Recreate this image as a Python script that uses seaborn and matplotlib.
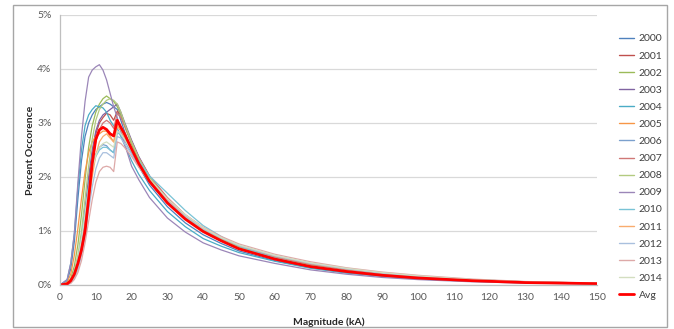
import numpy as np
import pandas as pd
import seaborn as sns
import matplotlib
matplotlib.use("Agg")
import matplotlib.pyplot as plt
from matplotlib.patches import Rectangle

# ================================
# Data (percent occurrence by magnitude, kA)
# ================================
MAG = [0, 2, 3, 4, 5, 6, 7, 8, 9, 10, 11, 12, 13, 14, 15, 16, 17, 18, 20, 22,
       25, 30, 35, 40, 45, 50, 60, 70, 80, 90, 100, 115, 130, 150]

Y2000 = [0, 0.08, 0.3, 0.8, 1.6, 2.3, 2.75, 3.0, 3.15, 3.25, 3.3, 3.35, 3.38, 3.35, 3.3, 3.25, 3.05, 2.85, 2.5, 2.2,
         1.85, 1.45, 1.15, 0.93, 0.77, 0.63, 0.45, 0.32, 0.23, 0.17, 0.12, 0.075, 0.045, 0.025]
Y2001 = [0, 0.02, 0.06, 0.18, 0.4, 0.75, 1.25, 1.85, 2.4, 2.8, 3.0, 3.1, 3.18, 3.15, 3.05, 3.22, 3.15, 2.98, 2.66, 2.36,
         2.0, 1.6, 1.28, 1.04, 0.86, 0.71, 0.51, 0.37, 0.27, 0.2, 0.15, 0.09, 0.055, 0.03]
Y2002 = [0, 0.03, 0.12, 0.35, 0.75, 1.3, 1.95, 2.55, 2.95, 3.2, 3.35, 3.45, 3.5, 3.45, 3.4, 3.3, 3.15, 2.95, 2.6, 2.3,
         1.95, 1.55, 1.24, 1.0, 0.83, 0.68, 0.48, 0.34, 0.25, 0.18, 0.13, 0.08, 0.045, 0.025]
Y2003 = [0, 0.02, 0.07, 0.2, 0.45, 0.85, 1.4, 2.0, 2.5, 2.85, 3.05, 3.15, 3.2, 3.25, 3.3, 3.35, 3.2, 3.02, 2.68, 2.38,
         2.02, 1.6, 1.28, 1.04, 0.86, 0.71, 0.5, 0.36, 0.26, 0.19, 0.14, 0.085, 0.05, 0.028]
Y2004 = [0, 0.1, 0.4, 0.95, 1.8, 2.5, 2.95, 3.15, 3.25, 3.32, 3.3, 3.28, 3.2, 3.05, 2.95, 2.9, 2.75, 2.6, 2.3, 2.05,
         1.75, 1.36, 1.08, 0.86, 0.72, 0.6, 0.44, 0.31, 0.22, 0.16, 0.11, 0.07, 0.04, 0.022]
Y2005 = [0, 0.05, 0.2, 0.55, 1.05, 1.6, 2.1, 2.45, 2.65, 2.75, 2.8, 2.85, 2.85, 2.75, 2.65, 2.95, 2.85, 2.7, 2.45, 2.2,
         1.9, 1.52, 1.23, 1.0, 0.83, 0.69, 0.5, 0.36, 0.27, 0.2, 0.14, 0.09, 0.05, 0.028]
Y2006 = [0, 0.02, 0.07, 0.2, 0.45, 0.85, 1.35, 1.85, 2.2, 2.42, 2.55, 2.6, 2.58, 2.5, 2.45, 2.85, 2.8, 2.68, 2.45, 2.2,
         1.9, 1.52, 1.23, 1.0, 0.82, 0.68, 0.49, 0.35, 0.26, 0.19, 0.14, 0.085, 0.05, 0.027]
Y2007 = [0, 0.01, 0.05, 0.15, 0.35, 0.65, 1.1, 1.7, 2.25, 2.65, 2.88, 3.0, 3.05, 3.0, 2.9, 3.18, 3.1, 2.95, 2.65, 2.36,
         2.02, 1.62, 1.3, 1.06, 0.88, 0.73, 0.53, 0.39, 0.29, 0.21, 0.16, 0.1, 0.06, 0.032]
Y2008 = [0, 0.02, 0.08, 0.25, 0.55, 1.0, 1.6, 2.2, 2.7, 3.05, 3.25, 3.35, 3.42, 3.45, 3.42, 3.35, 3.2, 3.0, 2.65, 2.35,
         2.0, 1.58, 1.27, 1.03, 0.85, 0.7, 0.5, 0.36, 0.26, 0.19, 0.14, 0.085, 0.05, 0.028]
Y2009 = [0, 0.1, 0.4, 0.95, 1.9, 2.75, 3.4, 3.85, 3.98, 4.04, 4.08, 3.98, 3.8, 3.55, 3.3, 3.1, 2.85, 2.62, 2.2, 1.95,
         1.62, 1.24, 0.98, 0.78, 0.65, 0.54, 0.4, 0.28, 0.2, 0.14, 0.1, 0.06, 0.035, 0.02]
Y2010 = [0, 0.02, 0.08, 0.22, 0.48, 0.88, 1.35, 1.8, 2.15, 2.38, 2.5, 2.55, 2.55, 2.5, 2.45, 2.82, 2.78, 2.7, 2.5, 2.3,
         2.02, 1.7, 1.38, 1.1, 0.9, 0.72, 0.5, 0.35, 0.26, 0.19, 0.14, 0.085, 0.05, 0.027]
Y2011 = [0, 0.01, 0.05, 0.14, 0.32, 0.6, 1.0, 1.5, 2.0, 2.4, 2.65, 2.75, 2.8, 2.72, 2.65, 2.95, 2.88, 2.75, 2.5, 2.25,
         1.95, 1.57, 1.27, 1.04, 0.87, 0.73, 0.54, 0.4, 0.3, 0.22, 0.16, 0.1, 0.06, 0.033]
Y2012 = [0, 0.01, 0.04, 0.12, 0.28, 0.55, 0.92, 1.38, 1.82, 2.15, 2.35, 2.45, 2.45, 2.4, 2.35, 2.75, 2.72, 2.62, 2.42, 2.2,
         1.92, 1.56, 1.27, 1.04, 0.87, 0.73, 0.54, 0.4, 0.3, 0.22, 0.16, 0.1, 0.06, 0.033]
Y2013 = [0, 0.01, 0.03, 0.1, 0.23, 0.45, 0.78, 1.18, 1.58, 1.9, 2.1, 2.18, 2.2, 2.18, 2.1, 2.65, 2.62, 2.55, 2.38, 2.18,
         1.92, 1.58, 1.3, 1.07, 0.9, 0.76, 0.57, 0.43, 0.32, 0.24, 0.18, 0.11, 0.065, 0.035]
Y2014 = [0, 0.02, 0.08, 0.22, 0.48, 0.85, 1.3, 1.78, 2.15, 2.4, 2.55, 2.62, 2.65, 2.6, 2.55, 2.85, 2.8, 2.7, 2.48, 2.25,
         1.96, 1.6, 1.3, 1.06, 0.88, 0.74, 0.55, 0.41, 0.31, 0.23, 0.17, 0.1, 0.06, 0.033]
AVG = [0, 0.02, 0.08, 0.2, 0.4, 0.65, 1.0, 1.6, 2.25, 2.7, 2.87, 2.92, 2.88, 2.8, 2.76, 3.05, 2.92, 2.8, 2.52, 2.25,
       1.92, 1.52, 1.22, 0.99, 0.82, 0.67, 0.48, 0.34, 0.25, 0.18, 0.13, 0.08, 0.045, 0.025]

YEARS = [str(y) for y in range(2000, 2015)]
SERIES = [Y2000, Y2001, Y2002, Y2003, Y2004, Y2005, Y2006, Y2007, Y2008, Y2009,
          Y2010, Y2011, Y2012, Y2013, Y2014]
COLORS = ["#4F81BD", "#C0504D", "#9BBB59", "#8064A2", "#4BACC6", "#F79646",
          "#7BA0CD", "#D07876", "#B3CB80", "#9B86B8", "#79C3D6", "#F9AC6E",
          "#A9C0DE", "#DDA9A8", "#D3DEC0"]

# long-form table
rows = []
for yr, vals in zip(YEARS, SERIES):
    for m, v in zip(MAG, vals):
        rows.append({"mag": m, "pct": v, "year": yr})
df = pd.DataFrame(rows)
df_avg = pd.DataFrame({"mag": MAG, "pct": AVG})

# ================================
# Plot
# ================================
sns.set_style("white")
plt.rcParams["font.family"] = ["Lato", "DejaVu Sans"]

fig = plt.figure(figsize=(6.74, 3.29), dpi=100)
ax = fig.add_axes([60 / 674, 1 - 285 / 329, 537 / 674, 270 / 329])

sns.lineplot(data=df, x="mag", y="pct", hue="year", palette=COLORS,
             linewidth=0.9, ax=ax, legend=False, estimator=None)
sns.lineplot(data=df_avg, x="mag", y="pct", color="#FF0000",
             linewidth=2.0, ax=ax, legend=False)

ax.set_xlim(0, 150)
ax.set_ylim(0, 5)
ax.set_xticks(range(0, 151, 10))
ax.set_yticks(range(0, 6))
ax.set_yticklabels([f"{i}%" for i in range(6)])
ax.tick_params(axis="both", length=0, labelsize=7.5, labelcolor="#595959", pad=6)
ax.grid(axis="y", color="#D9D9D9", linewidth=0.9)
ax.grid(axis="x", visible=False)
for s in ["top", "right"]:
    ax.spines[s].set_visible(False)
for s in ["left", "bottom"]:
    ax.spines[s].set_color("#BFBFBF")
    ax.spines[s].set_linewidth(0.9)

ax.set_xlabel("Magnitude (kA)", fontsize=7.5, fontweight="bold", color="#262626", labelpad=11)
ax.set_ylabel("Percent Occorence", fontsize=7.5, fontweight="bold", color="#262626", labelpad=2)

# legend
handles = [plt.Line2D([], [], color=c, linewidth=1.0) for c in COLORS]
handles.append(plt.Line2D([], [], color="#FF0000", linewidth=2.0))
labels = YEARS + ["Avg"]
fig.legend(handles, labels, loc="upper left", bbox_to_anchor=(615 / 674, 1 - 30 / 329),
           frameon=False, fontsize=7.5, handlelength=1.45, handletextpad=0.45,
           labelspacing=0.75, borderaxespad=0, labelcolor="#404040")

# outer chart frame
fig.patches.append(Rectangle((13 / 674, 1 - 327 / 329), 654 / 674, 322 / 329,
                             transform=fig.transFigure, fill=False,
                             edgecolor="#A6A6A6", linewidth=1.0))

plt.savefig("out.png", dpi=100)
plt.close()
